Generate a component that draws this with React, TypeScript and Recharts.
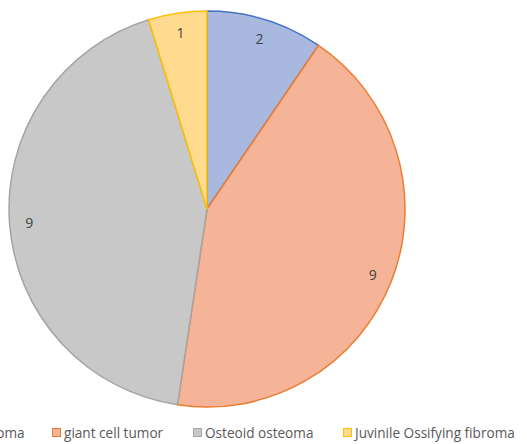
import React from 'react';
import { PieChart, Pie, Cell, Legend } from 'recharts';

const categories = ['Osteoblastoma', 'giant cell tumor', 'Osteoid osteoma', 'Juvinile Ossifying fibroma'];
const values = [2, 9, 9, 1];
const fills = ['#a9b8df', '#f5b497', '#c8c8c8', '#fedb8e'];
const strokes = ['#4472c4', '#ed7d31', '#a5a5a5', '#ffc000'];
const legendX = [-84, 52, 193, 343];

const data = categories.map((name, i) => ({ name, value: values[i] }));

const RADIAN = Math.PI / 180;

const renderLabel = (props: any) => {
  const { cx, cy, midAngle, outerRadius, value } = props;
  const r = outerRadius * 0.9;
  const x = cx + r * Math.cos(-midAngle * RADIAN);
  const y = cy + r * Math.sin(-midAngle * RADIAN);
  return (
    <text x={x} y={y} fill="#404040" fontSize={14} textAnchor="middle" dominantBaseline="central"
      fontFamily="'Open Sans', sans-serif">
      {value}
    </text>
  );
};

const renderLegend = () => (
  <div style={{ position: 'relative', width: 527, height: 20, fontFamily: "'Open Sans', sans-serif", fontSize: 13.6, color: '#595959' }}>
    {categories.map((c, i) => (
      <div key={c} style={{ position: 'absolute', left: legendX[i], top: 0, display: 'flex', alignItems: 'center', whiteSpace: 'nowrap' }}>
        <span style={{ display: 'inline-block', width: 7, height: 7, background: fills[i], border: `1px solid ${strokes[i]}`, marginRight: 3 }} />
        <span>{c}</span>
      </div>
    ))}
  </div>
);

export default function App() {
  return (
    <div style={{ position: 'absolute', left: 0, top: 0, width: 527, height: 444, overflow: 'hidden', background: '#fff' }}>
      <PieChart width={527} height={444} margin={{ top: 0, right: 0, bottom: 0, left: 0 }}>
        <Pie
          data={data}
          dataKey="value"
          nameKey="name"
          cx={207}
          cy={209}
          outerRadius={198}
          startAngle={90}
          endAngle={-270}
          label={renderLabel}
          labelLine={false}
          isAnimationActive={false}
        >
          {data.map((d, i) => (
            <Cell key={d.name} fill={fills[i]} stroke={strokes[i]} strokeWidth={1.5} />
          ))}
        </Pie>
        <Legend content={renderLegend} wrapperStyle={{ position: 'absolute', left: 0, top: 423, width: 527 }} />
      </PieChart>
    </div>
  );
}
